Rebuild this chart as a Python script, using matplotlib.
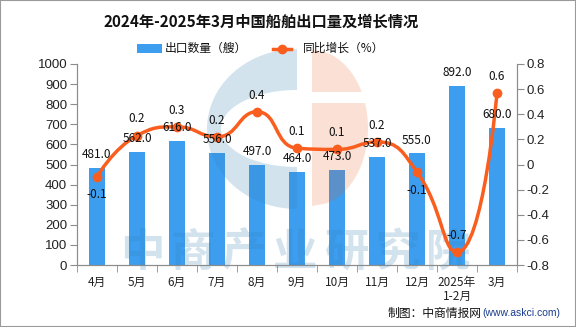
import numpy as np
import matplotlib
matplotlib.use("Agg")
import matplotlib.pyplot as plt
from matplotlib.path import Path
from matplotlib.patches import PathPatch, Polygon, Rectangle

plt.rcParams['font.family'] = ['Noto Sans CJK SC', 'DejaVu Sans']
plt.rcParams['axes.unicode_minus'] = False

# data
months = ["4月", "5月", "6月", "7月", "8月", "9月", "10月", "11月", "12月", "2025年\n1-2月", "3月"]
exports = [481.0, 562.0, 616.0, 556.0, 497.0, 464.0, 473.0, 537.0, 555.0, 892.0, 680.0]
growth = [-0.097, 0.23, 0.30, 0.22, 0.42, 0.13, 0.12, 0.18, -0.06, -0.70, 0.57]
left_ticks = list(range(0, 1001, 100))
right_ticks = [-0.8, -0.6, -0.4, -0.2, 0, 0.2, 0.4, 0.6, 0.8]
right_labels = ["-0.8", "-0.6", "-0.4", "-0.2", "0", "0.2", "0.4", "0.6", "0.8"]

BAR = '#3d9ef0'
LINE = '#fa5e1f'
AXC = '#8c8c8c'
W, H = 576, 327

fig = plt.figure(figsize=(5.76, 3.27), dpi=100)
ax = fig.add_axes([77 / W, 1 - 265 / H, 440 / W, 201 / H])
ax2 = ax.twinx()

x = np.arange(len(months))
ax.bar(x, exports, width=0.42, color=BAR, zorder=2)
ax.set_xlim(-0.5, len(months) - 0.5)
ax.set_ylim(0, 1000)
ax2.set_ylim(-0.8, 0.8)

for s in ['left', 'bottom', 'right']:
    ax.spines[s].set_color(AXC)
    ax2.spines[s].set_color(AXC)
ax.spines['top'].set_visible(False)
ax2.spines['top'].set_visible(False)

ax.set_yticks(left_ticks)
ax.set_yticklabels([str(v) for v in left_ticks], fontsize=9.5, family='Liberation Sans')
ax.tick_params(axis='y', length=5, color=AXC, labelcolor='#222222', pad=2)
ax2.set_yticks(right_ticks)
ax2.set_yticklabels(right_labels, fontsize=9.5, family='Liberation Sans')
ax2.tick_params(axis='y', length=5, color=AXC, labelcolor='#222222', pad=2)

ax.set_xticks(x)
ax.set_xticklabels(months, fontsize=8.5, linespacing=1.1, va='top')
ax.set_xticks(np.arange(-0.5, len(months), 1), minor=True)
ax.tick_params(axis='x', which='major', length=0, pad=8, labelcolor='#222222')
ax.tick_params(axis='x', which='minor', length=5, color=AXC)

# smooth line (echarts style bezier with constraint), built in display space
fig.canvas.draw()
pts = ax2.transData.transform(np.column_stack([x, growth]))
n = len(pts)
sm = 0.5
verts = [pts[0]]
codes = [Path.MOVETO]
cp0 = pts[0].copy()
for i in range(1, n):
    cur = pts[i]
    prev = pts[i - 1]
    if i == n - 1:
        cp1 = cur.copy()
        nxt_cp0 = cur.copy()
    else:
        nxt = pts[i + 1]
        v = nxt - prev
        lp = np.hypot(*(cur - prev))
        ln = np.hypot(*(nxt - cur))
        r = ln / (ln + lp)
        nc = cur + v * sm * r
        nc = np.minimum(nc, np.maximum(nxt, cur))
        nc = np.maximum(nc, np.minimum(nxt, cur))
        v = nc - cur
        cp1 = cur - v * lp / ln
        cp1 = np.minimum(cp1, np.maximum(prev, cur))
        cp1 = np.maximum(cp1, np.minimum(prev, cur))
        v = cur - cp1
        nxt_cp0 = cur + v * ln / lp
    verts += [cp0, cp1, cur]
    codes += [Path.CURVE4] * 3
    cp0 = nxt_cp0
inv = ax2.transData.inverted()
path = Path(inv.transform(np.array(verts)), codes)
ax2.add_patch(PathPatch(path, facecolor='none', edgecolor=LINE, lw=2.5, zorder=4))
ax2.plot(x, growth, 'o', color=LINE, ms=6, zorder=5)

# labels drawn above the line
for xi, v in zip(x, exports):
    ax2.annotate(f"{v:.1f}", (xi, v), xycoords=ax.transData, xytext=(0, 5),
                 textcoords='offset points', ha='center', va='bottom', fontsize=8.5,
                 zorder=7, color='#111111')

label_off = [-13, 12, 12, 12, 12, 12, 12, 12, -13, 12, 12]
for xi, g, off in zip(x, growth, label_off):
    ax2.annotate(f"{g:.1f}", (xi, g), xytext=(0, off), textcoords='offset points',
                 ha='center', va='center', fontsize=8.5, color='#111111', zorder=7)

# watermark logo (pixel coords -> figure fraction)
def fpt(px, py):
    return (px / W, 1 - py / H)

blue_c = (45 / 255, 126 / 255, 179 / 255)
orange_c = (232 / 255, 84 / 255, 21 / 255)

t = np.linspace(np.pi / 2, 3 * np.pi / 2, 60)
outer = [fpt(297 + 90 * np.cos(a), 129 - 80 * np.sin(a)) for a in t]
inner = [fpt(297 + 76 * np.cos(a), 128.5 - 38.5 * np.sin(a)) for a in t[::-1]]
ax.add_patch(Polygon(outer + inner, closed=True, transform=fig.transFigure,
                     facecolor=blue_c, alpha=0.21, lw=0, zorder=3, clip_on=False))

def orange_piece(y0, y1, cx=312, cy=128, rx=56, ry=78):
    ys = np.linspace(y0, y1, 40)
    p = [fpt(cx + rx * np.sqrt(max(0, 1 - ((yy - cy) / ry) ** 2)), yy) for yy in ys]
    return [fpt(cx, y0)] + p + [fpt(cx, y1)]

for y0, y1 in [(50, 92), (103, 206)]:
    ax.add_patch(Polygon(orange_piece(y0, y1), closed=True, transform=fig.transFigure,
                         facecolor=orange_c, alpha=0.175, lw=0, zorder=3, clip_on=False))

for i, ch in enumerate("中商产业研究院"):
    ax.text((142 + 51 * i) / W, 1 - 253 / H, ch, transform=fig.transFigure, fontsize=32,
            fontweight='bold', color=blue_c, alpha=0.21, ha='center', va='center',
            zorder=3, clip_on=False)

# title, legend, footer
fig.text(261 / W, 1 - 22 / H, "2024年-2025年3月中国船舶出口量及增长情况", ha='center', va='center',
         fontsize=11, fontweight='bold', color='#111111')
fig.patches.append(Rectangle(fpt(137, 52.5), 25 / W, 8 / H, transform=fig.transFigure,
                             facecolor=BAR, lw=0))
fig.text(165 / W, 1 - 48.5 / H, "出口数量（艘）", ha='left', va='center', fontsize=8.5, color='#111111')
fig.lines.append(plt.Line2D([273 / W, 291 / W], [1 - 48.5 / H] * 2, transform=fig.transFigure,
                            color=LINE, lw=2.5))
fig.lines.append(plt.Line2D([282 / W], [1 - 48.5 / H], transform=fig.transFigure,
                            color=LINE, marker='o', ms=6))
fig.text(303 / W, 1 - 48.5 / H, "同比增长（%）", ha='left', va='center', fontsize=8.5, color='#111111')

fig.text(482 / W, 1 - 313 / H, "制图：中商情报网", ha='right', va='center', fontsize=8.5, color='#111111')
fig.text(482 / W, 1 - 313 / H, "(www.askci.com)", ha='left', va='center', fontsize=7.5,
         family='Liberation Sans', color='#1a3c8c')

fig.patches.append(Rectangle((0, 0), 1, 1, transform=fig.transFigure, fill=False,
                             edgecolor='#9a9a9a', lw=1.5))

fig.savefig("out.png", dpi=100)
